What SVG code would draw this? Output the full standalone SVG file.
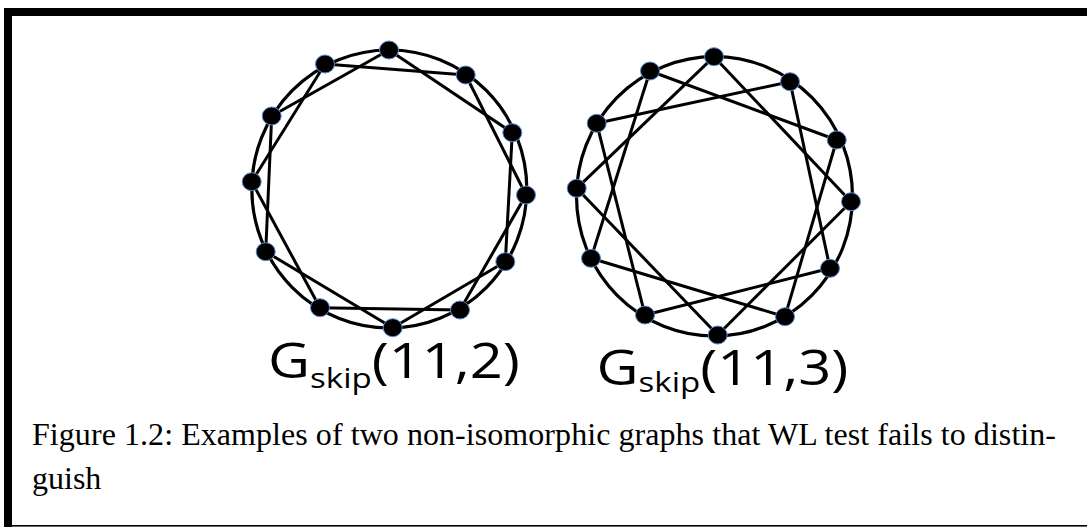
<svg xmlns="http://www.w3.org/2000/svg" width="1087" height="527" viewBox="0 0 1087 527">
<style>
.ring{fill:none;stroke:#000;stroke-width:3.2}
.edge{stroke:#000;stroke-width:3;fill:none}
.node{fill:#000;stroke:#5b8bd0;stroke-width:1}
.lbl{font-family:"Open Sans","Noto Sans",sans-serif;font-size:49px;fill:#000}
.cap{font-family:"Liberation Serif","Times New Roman",serif;font-size:32px;fill:#000}
</style>
<rect width="1087" height="527" fill="#fff"/>
<g id="frame">
<rect x="4" y="8" width="1083" height="8" fill="#000"/>
<rect x="4" y="8" width="8" height="519" fill="#000"/>
<rect x="4" y="525" width="1083" height="1.6" fill="#000"/>
</g>
<g id="connectors">
<ellipse class="ring" cx="389.3" cy="189" rx="137.5" ry="139"/>
<ellipse class="ring" cx="714.5" cy="196.3" rx="138" ry="139.7"/>
<g id="edges-g1">
<line class="edge" x1="389" y1="50" x2="271.7" y2="116"/>
<line class="edge" x1="389" y1="50" x2="512.3" y2="132.7"/>
<line class="edge" x1="325" y1="64" x2="465.7" y2="75"/>
<line class="edge" x1="325" y1="64" x2="251.7" y2="181.7"/>
<line class="edge" x1="465.7" y1="75" x2="526" y2="195"/>
<line class="edge" x1="271.7" y1="116" x2="265.7" y2="251.7"/>
<line class="edge" x1="512.3" y1="132.7" x2="505.3" y2="261.7"/>
<line class="edge" x1="251.7" y1="181.7" x2="320" y2="307.7"/>
<line class="edge" x1="526" y1="195" x2="460" y2="310"/>
<line class="edge" x1="265.7" y1="251.7" x2="392.7" y2="327.7"/>
<line class="edge" x1="505.3" y1="261.7" x2="392.7" y2="327.7"/>
<line class="edge" x1="320" y1="307.7" x2="460" y2="310"/>
</g>
<g id="edges-g2">
<line class="edge" x1="714" y1="56.7" x2="851" y2="201.7"/>
<line class="edge" x1="714" y1="56.7" x2="576.7" y2="188.3"/>
<line class="edge" x1="790" y1="81.7" x2="830" y2="268.3"/>
<line class="edge" x1="790" y1="81.7" x2="596.7" y2="123.3"/>
<line class="edge" x1="836.7" y1="140" x2="785" y2="316.7"/>
<line class="edge" x1="836.7" y1="140" x2="650" y2="71"/>
<line class="edge" x1="851" y1="201.7" x2="717.7" y2="335"/>
<line class="edge" x1="830" y1="268.3" x2="645" y2="315"/>
<line class="edge" x1="785" y1="316.7" x2="591" y2="258.3"/>
<line class="edge" x1="717.7" y1="335" x2="576.7" y2="188.3"/>
<line class="edge" x1="645" y1="315" x2="596.7" y2="123.3"/>
<line class="edge" x1="591" y1="258.3" x2="650" y2="71"/>
</g>
</g>
<g id="graph1-nodes">
<ellipse id="g1n0" class="node" cx="389" cy="50" rx="9.5" ry="9"/>
<ellipse id="g1n1" class="node" cx="465.7" cy="75" rx="9.5" ry="9"/>
<ellipse id="g1n2" class="node" cx="512.3" cy="132.7" rx="9.5" ry="9"/>
<ellipse id="g1n3" class="node" cx="526" cy="195" rx="9.5" ry="9"/>
<ellipse id="g1n4" class="node" cx="505.3" cy="261.7" rx="9.5" ry="9"/>
<ellipse id="g1n5" class="node" cx="460" cy="310" rx="9.5" ry="9"/>
<ellipse id="g1n6" class="node" cx="392.7" cy="327.7" rx="9.5" ry="9"/>
<ellipse id="g1n7" class="node" cx="320" cy="307.7" rx="9.5" ry="9"/>
<ellipse id="g1n8" class="node" cx="265.7" cy="251.7" rx="9.5" ry="9"/>
<ellipse id="g1n9" class="node" cx="251.7" cy="181.7" rx="9.5" ry="9"/>
<ellipse id="g1n10" class="node" cx="271.7" cy="116" rx="9.5" ry="9"/>
<ellipse id="g1n11" class="node" cx="325" cy="64" rx="9.5" ry="9"/>
</g>
<g id="graph2-nodes">
<ellipse id="g2n0" class="node" cx="714" cy="56.7" rx="9.5" ry="9"/>
<ellipse id="g2n1" class="node" cx="790" cy="81.7" rx="9.5" ry="9"/>
<ellipse id="g2n2" class="node" cx="836.7" cy="140" rx="9.5" ry="9"/>
<ellipse id="g2n3" class="node" cx="851" cy="201.7" rx="9.5" ry="9"/>
<ellipse id="g2n4" class="node" cx="830" cy="268.3" rx="9.5" ry="9"/>
<ellipse id="g2n5" class="node" cx="785" cy="316.7" rx="9.5" ry="9"/>
<ellipse id="g2n6" class="node" cx="717.7" cy="335" rx="9.5" ry="9"/>
<ellipse id="g2n7" class="node" cx="645" cy="315" rx="9.5" ry="9"/>
<ellipse id="g2n8" class="node" cx="591" cy="258.3" rx="9.5" ry="9"/>
<ellipse id="g2n9" class="node" cx="576.7" cy="188.3" rx="9.5" ry="9"/>
<ellipse id="g2n10" class="node" cx="596.7" cy="123.3" rx="9.5" ry="9"/>
<ellipse id="g2n11" class="node" cx="650" cy="71" rx="9.5" ry="9"/>
</g>
<g id="label1">
<text class="lbl" transform="translate(268,378) scale(1.18,1)">G<tspan font-size="28" dy="10">skip</tspan><tspan dy="-10">(11,2)</tspan></text>
</g>
<g id="label2">
<text class="lbl" transform="translate(596.5,385) scale(1.18,1)">G<tspan font-size="28" dy="7">skip</tspan><tspan dy="-7">(11,3)</tspan></text>
</g>
<g id="caption">
<text class="cap" x="32" y="445" textLength="1024" lengthAdjust="spacing">Figure 1.2: Examples of two non-isomorphic graphs that WL test fails to distin-</text>
<text class="cap" x="32" y="489">guish</text>
</g>
</svg>
